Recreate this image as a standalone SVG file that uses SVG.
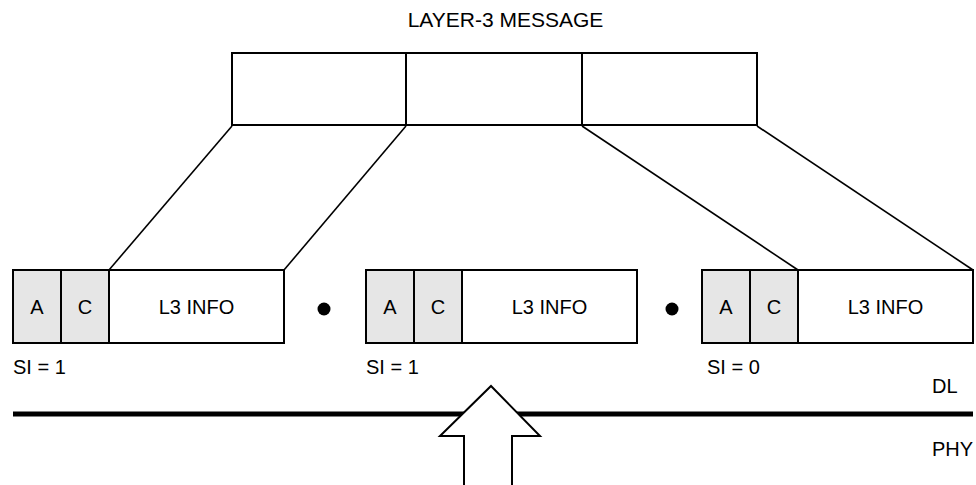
<svg xmlns="http://www.w3.org/2000/svg" width="976" height="485" viewBox="0 0 976 485">
<style>
text{font-family:"Liberation Sans",Arial,sans-serif;font-size:20px;fill:#000}
.c{text-anchor:middle}
.box{fill:#fff;stroke:#000;stroke-width:2}
.g{fill:#e6e6e6;stroke:#000;stroke-width:2}
.ln{stroke:#000;stroke-width:1.6;fill:none}
</style>
<rect width="976" height="485" fill="#fff"/>
<g id="title"><text class="c" x="505.5" y="27" style="font-size:21px">LAYER-3 MESSAGE</text></g>
<g id="message">
<rect class="box" x="232" y="53" width="525" height="72"/>
<line class="ln" x1="406" y1="53" x2="406" y2="125" style="stroke-width:2"/>
<line class="ln" x1="582" y1="53" x2="582" y2="125" style="stroke-width:2"/>
</g>
<g id="connectors">
<line class="ln" x1="232" y1="126" x2="109" y2="270"/>
<line class="ln" x1="406" y1="126" x2="284" y2="270"/>
<line class="ln" x1="582" y1="126" x2="798" y2="270"/>
<line class="ln" x1="757" y1="126" x2="973" y2="270"/>
</g>
<g id="frame1">
<rect class="g" x="13" y="270" width="48" height="73"/>
<rect class="g" x="61" y="270" width="48" height="73"/>
<rect class="box" x="109" y="270" width="175" height="73"/>
<text class="c" x="37" y="314">A</text>
<text class="c" x="85" y="314">C</text>
<text class="c" x="196.5" y="314">L3 INFO</text>
<text x="13" y="374">SI = 1</text>
</g>
<g id="dot1"><circle cx="324" cy="309" r="6.5" fill="#000"/></g>
<g id="frame2">
<rect class="g" x="366" y="270" width="48" height="73"/>
<rect class="g" x="414" y="270" width="48" height="73"/>
<rect class="box" x="462" y="270" width="175" height="73"/>
<text class="c" x="390" y="314">A</text>
<text class="c" x="438" y="314">C</text>
<text class="c" x="549.5" y="314">L3 INFO</text>
<text x="366" y="374">SI = 1</text>
</g>
<g id="dot2"><circle cx="672" cy="309" r="6.5" fill="#000"/></g>
<g id="frame3">
<rect class="g" x="702" y="270" width="48" height="73"/>
<rect class="g" x="750" y="270" width="48" height="73"/>
<rect class="box" x="798" y="270" width="175" height="73"/>
<text class="c" x="726" y="314">A</text>
<text class="c" x="774" y="314">C</text>
<text class="c" x="885.5" y="314">L3 INFO</text>
<text x="707" y="374">SI = 0</text>
</g>
<g id="boundary">
<line x1="13" y1="414" x2="973" y2="414" stroke="#000" stroke-width="5"/>
<text x="932" y="393">DL</text>
<text x="932" y="456">PHY</text>
</g>
<g id="arrow">
<path d="M464,486 L464,436 L440,436 L491,386 L540,436 L512,436 L512,486" fill="#fff" stroke="#000" stroke-width="2" stroke-linejoin="miter"/>
</g>
</svg>
